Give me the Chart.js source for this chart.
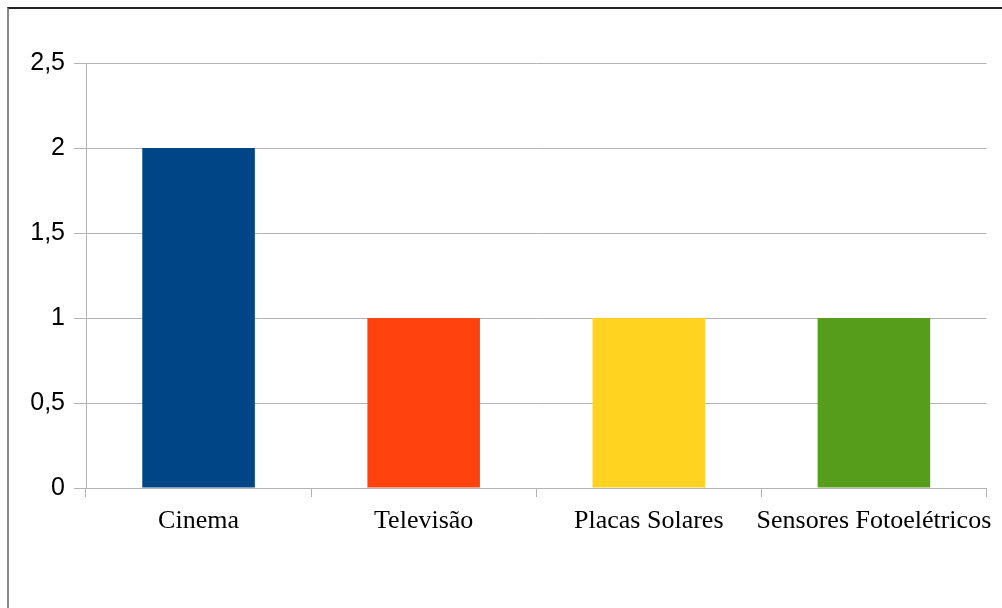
<!DOCTYPE html>
<html>
<head>
<meta charset="utf-8">
<script src="https://cdn.jsdelivr.net/npm/chart.js@4"></script>
<style>
    html, body { margin: 0; padding: 0; background: #fff; overflow: hidden; }
    #wrap { position: relative; width: 1002px; height: 608px; }
    #frame {
        position: absolute; left: 7px; top: 7px; width: 1100px; height: 700px;
        border-top: 2px solid #222; border-left: 2px solid #888;
    }
    canvas { position: absolute; left: 0; top: 0; }
</style>
</head>
<body>
<div id="wrap">
    <div id="frame"></div>
    <canvas id="grafico" width="1002" height="608"></canvas>
</div>
<script>
// dados do gráfico
const categorias = ['Cinema', 'Televisão', 'Placas Solares', 'Sensores Fotoelétricos'];
const valores = [2, 1, 1, 1];
const cores = ['#004586', '#ff420e', '#ffd320', '#579d1c'];
const yTicks = [0, 0.5, 1, 1.5, 2, 2.5];

const linha = '#b3b3b3';

const ctx = document.getElementById('grafico').getContext('2d');
new Chart(ctx, {
    type: 'bar',
    data: {
        labels: categorias,
        datasets: [{
            data: valores,
            backgroundColor: cores,
            borderWidth: 0,
            barPercentage: 0.5,
            categoryPercentage: 1
        }]
    },
    options: {
        responsive: false,
        animation: false,
        layout: { padding: { left: 0, right: 14, top: 63, bottom: 0 } },
        plugins: { legend: { display: false }, tooltip: { enabled: false } },
        scales: {
            x: {
                afterFit: s => { s.height = 120; },
                grid: {
                    offset: true,
                    color: c => c.index === categorias.length ? linha : 'rgba(0,0,0,0)',
                    tickColor: linha,
                    tickLength: 9,
                    lineWidth: 1
                },
                border: { color: linha },
                ticks: {
                    color: '#000',
                    padding: 9,
                    maxRotation: 0,
                    autoSkip: false,
                    font: { family: '"Liberation Serif"', size: 26 }
                }
            },
            y: {
                min: 0,
                max: 2.5,
                afterFit: s => { s.width = 86; },
                afterBuildTicks: s => { s.ticks = yTicks.map(v => ({ value: v })); },
                grid: { color: linha, tickLength: 12 },
                border: { color: linha },
                ticks: {
                    color: '#000',
                    padding: 9,
                    font: { family: '"Liberation Sans"', size: 25 },
                    callback: v => String(v).replace('.', ',')
                }
            }
        }
    }
});
</script>
</body>
</html>
